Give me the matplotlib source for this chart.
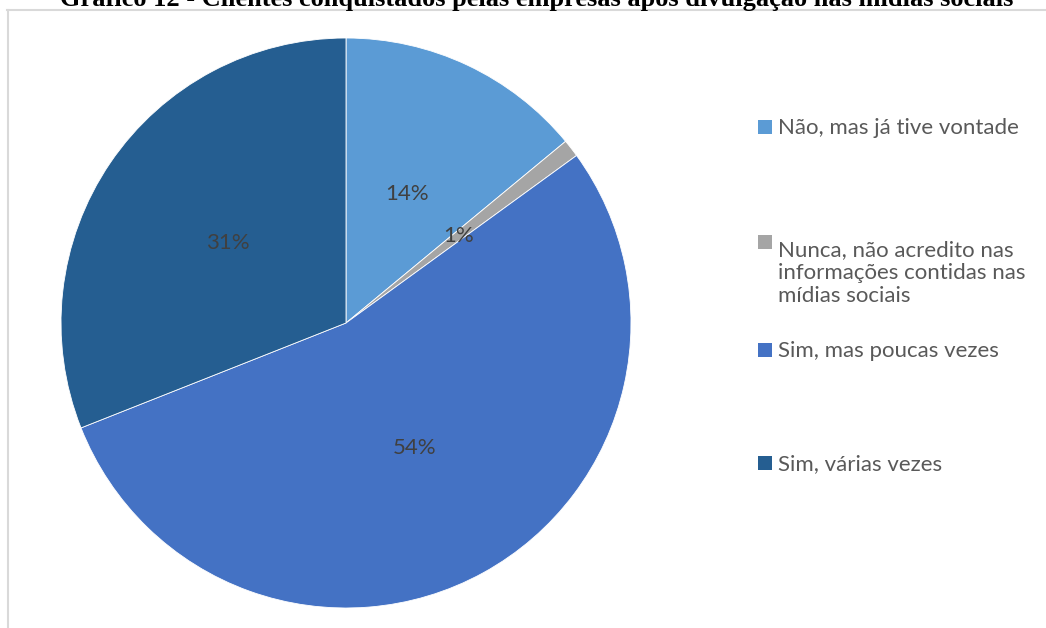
import matplotlib.pyplot as plt
from matplotlib.patches import Rectangle
from matplotlib.lines import Line2D

# Survey answers and shares (%)
categories = [
    "Não, mas já tive vontade",
    "Nunca, não acredito nas\ninformações contidas nas\nmídias sociais",
    "Sim, mas poucas vezes",
    "Sim, várias vezes",
]
shares = [14, 1, 54, 31]
colors = ["#5B9BD5", "#A5A5A5", "#4472C4", "#255E91"]
title = "Gráfico 12 - Clientes conquistados pelas empresas após divulgação nas mídias sociais"

W, H = 1046, 628
fig = plt.figure(figsize=(W / 100, H / 100), dpi=100)
fig.patch.set_facecolor("white")

def fx(px):
    return px / W

def fy(py):
    return 1 - py / H

# chart frame (top and left edges visible)
frame_col = "#D9D9D9"
fig.add_artist(Line2D([fx(7), fx(W)], [fy(10), fy(10)], color=frame_col, lw=1.5,
                      transform=fig.transFigure))
fig.add_artist(Line2D([fx(7.5), fx(7.5)], [fy(10), fy(H)], color=frame_col, lw=1.5,
                      transform=fig.transFigure))

# title, running off the top of the canvas
fig.text(fx(537), fy(6), title, ha="center", va="baseline", fontsize=19,
         fontweight="bold", family="Liberation Serif", color="black")

# pie
cx, cy, r = 346, 323, 285
ax = fig.add_axes([fx(cx - r), fy(cy + r), (2 * r) / W, (2 * r) / H])
wedges, texts, autotexts = ax.pie(
    shares, colors=colors, startangle=90, counterclock=False,
    autopct=lambda p: f"{p:.0f}%", pctdistance=0.5,
    wedgeprops=dict(edgecolor="white", linewidth=0.6),
    textprops=dict(fontsize=16, color="#404040", family="Lato"),
)
ax.set_xlim(-1, 1)
ax.set_ylim(-1, 1)
ax.set_aspect("equal")
ax.axis("off")

# legend entries (baseline of the first line of each label)
legend_size = 16
line_px = legend_size * 1.2 * 100 / 72
entry_base = [134, 249, 357, 470]
for label, col, yb in zip(categories, colors, entry_base):
    fig.add_artist(Rectangle((fx(758), fy(yb)), 14 / W, 14 / H,
                             facecolor=col, edgecolor="none",
                             transform=fig.transFigure))
    n_lines = label.count("\n") + 1
    fig.text(fx(778), fy(yb + (n_lines - 1) * line_px), label, ha="left",
             va="baseline", fontsize=legend_size, family="Lato",
             color="#595959", linespacing=1.2)

fig.savefig("out.png", dpi=100)
